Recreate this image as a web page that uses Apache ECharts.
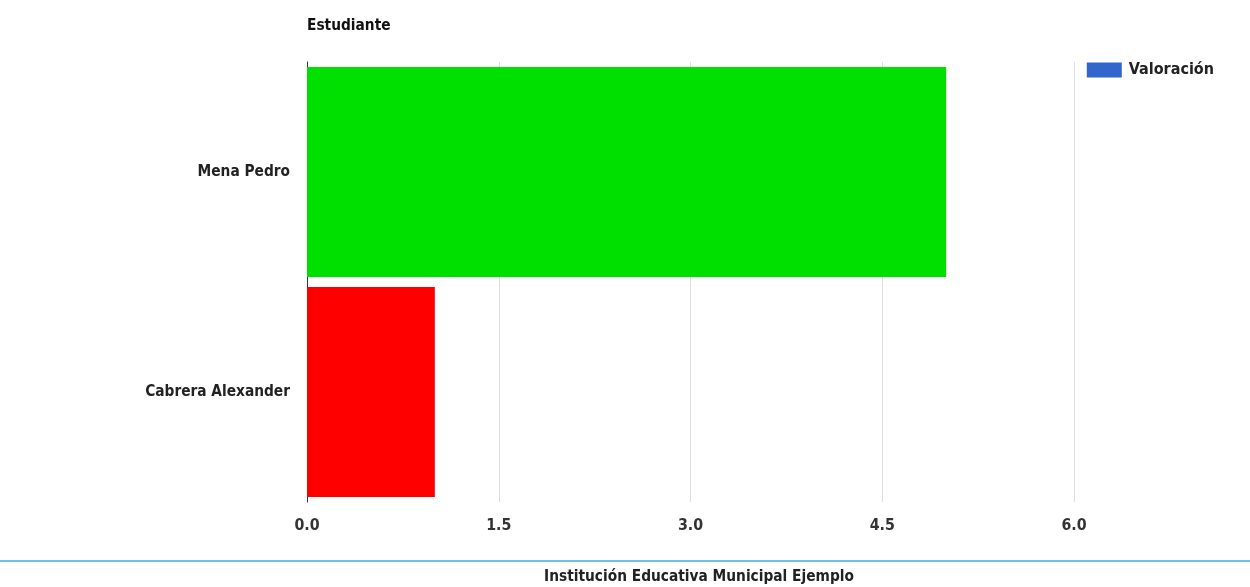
<!DOCTYPE html>
<html><head><meta charset="utf-8">
<script src="https://cdn.jsdelivr.net/npm/echarts@6/dist/echarts.min.js"></script>
<style>html,body{margin:0;padding:0;background:#fff}#c{width:1250px;height:587px}</style>
</head><body><div id="c"></div>
<script>
const categories = ["Cabrera Alexander", "Mena Pedro"];
const values = [1, 5];
const barColors = ["#ff0000", "#00e000"];
const xTicks = [0, 1.5, 3, 4.5, 6];
const FONT = "'Liberation Sans Narrow', 'DejaVu Sans Condensed', sans-serif";
const FS = 15.3;
const chart = echarts.init(document.getElementById('c'));
chart.setOption({
  animation: false,
  textStyle: {fontFamily: FONT},
  grid: {left: 307, right: 176, top: 62, bottom: 85},
  legend: {
    right: 31, top: 57, itemWidth: 35, itemHeight: 15, itemGap: 5, icon: 'rect',
    textStyle: {fontFamily: FONT, fontWeight: 'bold', fontSize: 16, color: '#222', padding: [0,0,0,2]},
    data: [{name: 'Valoración', itemStyle: {color: '#3366cc'}}]
  },
  xAxis: {
    type: 'value', min: 0, max: 6, interval: 1.5,
    axisLine: {show: false}, axisTick: {show: false},
    splitLine: {lineStyle: {color: '#dddddd'}},
    axisLabel: {fontFamily: FONT, fontWeight: 'bold', fontSize: FS + 0.5, color: '#333', margin: 16,
      formatter: v => xTicks.indexOf(v) >= 0 ? v.toFixed(1) : ''}
  },
  yAxis: {
    type: 'category', data: categories,
    name: 'Estudiante', nameLocation: 'end', nameGap: 28,
    nameTextStyle: {fontFamily: FONT, fontWeight: 'bold', fontSize: FS, color: '#111', align: 'left'},
    axisLine: {show: true, lineStyle: {color: '#333', width: 1}},
    axisTick: {show: false},
    axisLabel: {fontFamily: FONT, fontWeight: 'bold', fontSize: FS, color: '#222', margin: 17}
  },
  series: [{
    name: 'Valoración', type: 'bar', barCategoryGap: '4.5%',
    data: values.map((v, i) => ({value: v, itemStyle: {color: barColors[i]}})),
    itemStyle: {color: '#3366cc'}
  }],
  graphic: [
    {type: 'line', shape: {x1: 0, y1: 561, x2: 1250, y2: 561}, style: {stroke: '#3bb0e0', lineWidth: 1.5}},
    {type: 'text', x: 699, y: 577, style: {text: 'Institución Educativa Municipal Ejemplo', fontFamily: FONT, fontWeight: 'bold', fontSize: FS, fill: '#222', align: 'center', verticalAlign: 'middle'}}
  ]
});
</script></body></html>
